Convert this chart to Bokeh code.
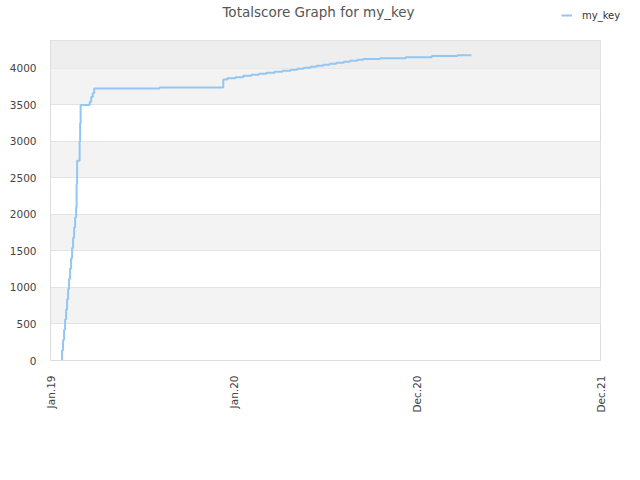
import math
import pandas as pd
from bokeh.plotting import figure
from bokeh.layouts import column
from bokeh.models import FixedTicker, Range1d, Legend, LegendItem, BoxAnnotation, Label
from bokeh.embed import file_html
from bokeh.resources import INLINE

# ---- data ----
title_text = "Totalscore Graph for my_key"
series_name = "my_key"
dates = [
    "2019-01-22", "2019-01-24", "2019-01-26", "2019-01-28", "2019-01-30",
    "2019-02-01", "2019-02-03", "2019-02-05", "2019-02-07", "2019-02-09",
    "2019-02-11", "2019-02-13", "2019-02-15", "2019-02-17", "2019-02-19",
    "2019-02-21", "2019-02-22", "2019-02-23", "2019-02-28", "2019-03-01",
    "2019-03-02", "2019-03-20", "2019-03-23", "2019-03-26", "2019-03-29",
    "2019-08-06", "2019-12-11", "2019-12-19", "2020-01-04", "2020-01-20",
    "2020-02-05", "2020-02-20", "2020-03-06", "2020-03-22", "2020-04-07",
    "2020-04-23", "2020-05-06", "2020-05-19", "2020-06-02", "2020-06-14",
    "2020-06-27", "2020-07-10", "2020-07-23", "2020-08-07", "2020-08-19",
    "2020-09-03", "2020-09-15", "2020-10-18", "2020-12-08", "2021-01-29",
    "2021-03-21", "2021-04-18",
]
scores = [
    0, 140, 280, 420, 560,
    700, 840, 980, 1120, 1260,
    1400, 1540, 1680, 1820, 1960,
    2100, 2420, 2735, 3000, 3250,
    3500, 3540, 3610, 3660, 3726,
    3740, 3849, 3867, 3881, 3899,
    3913, 3927, 3940, 3954, 3968,
    3982, 3995, 4009, 4023, 4037,
    4050, 4064, 4078, 4092, 4105,
    4119, 4128, 4141, 4155, 4169,
    4182, 4182,
]
tick_dates = ["2019-01-01", "2020-01-01", "2020-12-31", "2021-12-31"]
tick_labels = ["Jan.19", "Jan.20", "Dec.20", "Dec.21"]
y_ticks = [0, 500, 1000, 1500, 2000, 2500, 3000, 3500, 4000]
y_max = 4383

FONT = "DejaVu Sans"
LINE_COLOR = "#94c6f2"

x = pd.to_datetime(dates)
tick_ms = [int(pd.Timestamp(d).value // 10**6) for d in tick_dates]

# ---- header strip: title + legend ----
head = figure(frame_width=640, frame_height=40,
              x_range=Range1d(0, 640), y_range=Range1d(0, 40),
              min_border_left=0, min_border_right=0, min_border_top=0, min_border_bottom=0,
              x_axis_location=None, y_axis_location=None,
              output_backend="svg", toolbar_location=None)
head.grid.visible = False
head.outline_line_color = None
head.background_fill_color = "white"
head.border_fill_color = "white"
head.add_layout(Label(x=268, y=29, x_units="screen", y_units="screen",
                      text=title_text, text_align="center",
                      text_baseline="middle", text_font=FONT, text_font_size="13.5px",
                      text_color="#555555"))
# legend proxy: a line renderer with no drawable point, styled like the series
legend_proxy = head.line(x=[float("nan")], y=[float("nan")], line_color=LINE_COLOR, line_width=2)
head.add_layout(Legend(items=[LegendItem(label=series_name, renderers=[legend_proxy])],
                       location=(561, 19), padding=0, margin=0, spacing=0,
                       glyph_width=11, glyph_height=12, label_standoff=10,
                       label_text_font=FONT, label_text_font_size="10px",
                       label_text_color="#333333", border_line_color=None,
                       background_fill_alpha=0))

# ---- main chart ----
p = figure(
    width=640, height=440,
    min_border_left=50, min_border_right=40, min_border_top=0, min_border_bottom=120,
    x_axis_type="datetime",
    x_range=Range1d(pd.Timestamp(tick_dates[0]), pd.Timestamp(tick_dates[-1])),
    y_range=Range1d(0, y_max),
    output_backend="svg", toolbar_location=None,
)
p.background_fill_color = "white"
p.border_fill_color = "white"
p.outline_line_color = "#dddddd"

p.ygrid.ticker = FixedTicker(ticks=y_ticks)
p.ygrid.grid_line_color = "#e3e3e3"
p.ygrid.band_fill_color = "#f3f3f3"
p.ygrid.band_fill_alpha = 1.0
p.xgrid.visible = False
p.add_layout(BoxAnnotation(bottom=y_ticks[-1], fill_color="#eeeeee", fill_alpha=1.0,
                           line_color=None, level="underlay"))

p.step(x, scores, mode="after", line_color=LINE_COLOR, line_width=2)

for ax in (p.xaxis[0], p.yaxis[0]):
    ax.axis_line_color = "#dddddd"
    ax.major_tick_line_color = None
    ax.minor_tick_line_color = None
    ax.major_label_text_font = FONT
    ax.major_label_text_font_size = "10.5px"
    ax.major_label_text_color = "#444444"

p.yaxis.ticker = FixedTicker(ticks=y_ticks)
p.yaxis.major_label_standoff = 8
p.xaxis.ticker = FixedTicker(ticks=tick_ms)
p.xaxis.major_label_overrides = {t: l for t, l in zip(tick_ms, tick_labels)}
p.xaxis.major_label_orientation = math.pi / 2
p.xaxis.major_label_standoff = 9

layout = column(head, p, spacing=0)
open("out.html", "w").write(file_html(layout, INLINE))
